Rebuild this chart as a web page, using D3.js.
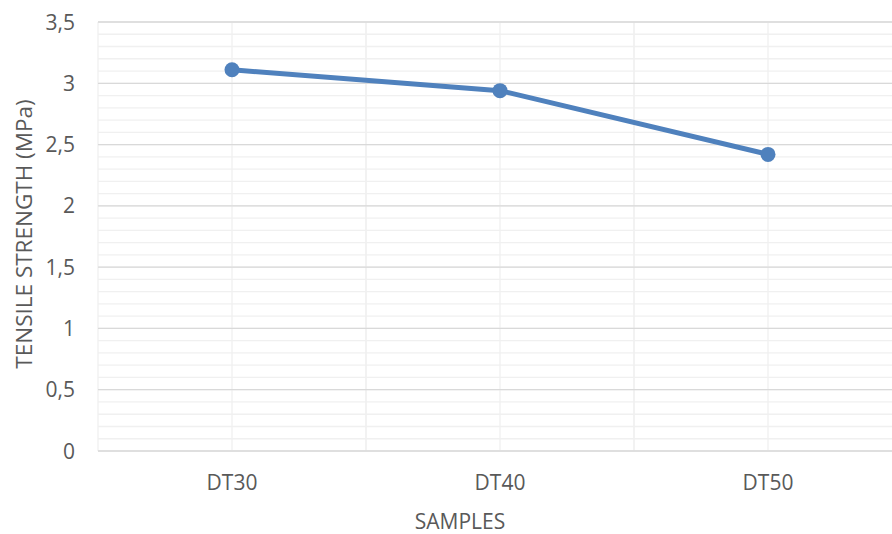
<!DOCTYPE html>
<html><head><meta charset="utf-8">
<script src="https://cdn.jsdelivr.net/npm/d3@7"></script>
<style>body{margin:0;background:#fff}svg{display:block}text{font-family:"Open Sans",Carlito,Calibri,sans-serif;fill:#595959}</style>
</head><body><svg id="c" width="892" height="534"></svg>
<script>
const categories = ["DT30","DT40","DT50"];
const values = [3.11, 2.94, 2.42];
const yTicks = [0,0.5,1,1.5,2,2.5,3,3.5];
const yTickLabels = ["0","0,5","1","1,5","2","2,5","3","3,5"];
const minorStep = 0.1;
const xTitle = "SAMPLES", yTitle = "TENSILE STRENGTH (MPa)";

const svg = d3.select("#c");
const L=98, R=902, T=22, B=451;
const x = d3.scaleBand().domain(categories).range([L,R]).padding(0);
const y = d3.scaleLinear().domain([0,3.5]).range([B,T]);
const g = svg.append("g");
d3.range(0,3.5+1e-9,minorStep).forEach(v=>{
  g.append("line").attr("x1",L).attr("x2",R).attr("y1",y(v)).attr("y2",y(v)).attr("stroke","#f0f0f0").attr("stroke-width",1.3);
});
categories.forEach(c=>{
  [x(c), x(c)+x.bandwidth()/2, x(c)+x.bandwidth()].forEach(px=>{
    g.append("line").attr("x1",px).attr("x2",px).attr("y1",T).attr("y2",B).attr("stroke","#f0f0f0").attr("stroke-width",1.3);
  });
});
yTicks.forEach(v=>{
  g.append("line").attr("x1",L).attr("x2",R).attr("y1",y(v)).attr("y2",y(v)).attr("stroke","#d9d9d9").attr("stroke-width",1.3);
});
yTicks.forEach((v,i)=>{
  svg.append("text").attr("x",75).attr("y",y(v)).attr("dy","0.36em").attr("text-anchor","end").attr("font-size",21).text(yTickLabels[i]);
});
categories.forEach(c=>{
  svg.append("text").attr("x",x(c)+x.bandwidth()/2).attr("y",490).attr("text-anchor","middle").attr("font-size",21).text(c);
});
svg.append("text").attr("x",460).attr("y",529).attr("text-anchor","middle").attr("font-size",21).text(xTitle);
svg.append("text").attr("transform","translate(32,234) rotate(-90)").attr("text-anchor","middle").attr("font-size",22.5).text(yTitle);
const cx = c=>x(c)+x.bandwidth()/2;
svg.append("path").datum(values).attr("fill","none").attr("stroke","#4f81bd").attr("stroke-width",5).attr("stroke-linejoin","round")
  .attr("d",d3.line().x((d,i)=>cx(categories[i])).y(d=>y(d)));
svg.selectAll("circle.m").data(values).enter().append("circle").attr("cx",(d,i)=>cx(categories[i])).attr("cy",d=>y(d)).attr("r",7.5).attr("fill","#4f81bd");
</script></body></html>
